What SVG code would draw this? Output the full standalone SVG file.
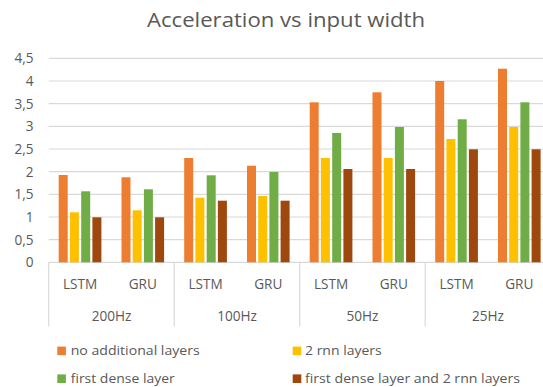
<svg xmlns="http://www.w3.org/2000/svg" width="543" height="387" viewBox="0 0 543 387">
<style>
text{font-family:"Open Sans","Liberation Sans",sans-serif;fill:#595959}
.t{font-size:20px}
.ax{font-size:13.6px}
.yl{font-size:13.6px;text-anchor:end}
.c{text-anchor:middle}
.lg{font-size:13.3px}
.grid{stroke:#d9d9d9;stroke-width:1.2;fill:none}
.s1{fill:#ED7D31}.s2{fill:#FFC000}.s3{fill:#70AD47}.s4{fill:#9E480E}
</style>
<rect width="543" height="387" fill="#ffffff"/>
<g id="title"><text class="t" x="147" y="27.3" textLength="278" lengthAdjust="spacingAndGlyphs">Acceleration vs input width</text></g>
<g id="gridlines">
<path class="grid" d="M48.7 58.3H543M48.7 81H543M48.7 103.6H543M48.7 126.3H543M48.7 149H543M48.7 171.6H543M48.7 194.3H543M48.7 217H543M48.7 239.6H543M48.7 262.3H543"/>
<path class="grid" d="M48.7 262.3V326.5M174.2 262.3V326.5M299.7 262.3V326.5M425.2 262.3V326.5"/>
</g>
<g id="y-axis">
<text class="yl" x="33.5" y="63.3">4,5</text>
<text class="yl" x="33.5" y="86">4</text>
<text class="yl" x="33.5" y="108.6">3,5</text>
<text class="yl" x="33.5" y="131.3">3</text>
<text class="yl" x="33.5" y="154">2,5</text>
<text class="yl" x="33.5" y="176.6">2</text>
<text class="yl" x="33.5" y="199.3">1,5</text>
<text class="yl" x="33.5" y="222">1</text>
<text class="yl" x="33.5" y="244.6">0,5</text>
<text class="yl" x="33.5" y="267.3">0</text>
</g>
<g id="bars">
<rect class="s1" x="58.7" y="175" width="9" height="87.3"/>
<rect class="s2" x="69.9" y="212.3" width="9" height="50"/>
<rect class="s3" x="81.2" y="191.3" width="9" height="71"/>
<rect class="s4" x="92.4" y="217.3" width="9" height="45"/>
<rect class="s1" x="121.5" y="177.3" width="9" height="85"/>
<rect class="s2" x="132.7" y="210.3" width="9" height="52"/>
<rect class="s3" x="143.9" y="189.3" width="9" height="73"/>
<rect class="s4" x="155.1" y="217.3" width="9" height="45"/>
<rect class="s1" x="184.2" y="158" width="9" height="104.3"/>
<rect class="s2" x="195.4" y="197.7" width="9" height="64.6"/>
<rect class="s3" x="206.7" y="175.3" width="9" height="87"/>
<rect class="s4" x="217.9" y="200.7" width="9" height="61.6"/>
<rect class="s1" x="247" y="165.7" width="9" height="96.6"/>
<rect class="s2" x="258.2" y="196" width="9" height="66.3"/>
<rect class="s3" x="269.4" y="172" width="9" height="90.3"/>
<rect class="s4" x="280.6" y="200.7" width="9" height="61.6"/>
<rect class="s1" x="309.7" y="102.3" width="9" height="160"/>
<rect class="s2" x="320.9" y="158" width="9" height="104.3"/>
<rect class="s3" x="332.2" y="133" width="9" height="129.3"/>
<rect class="s4" x="343.4" y="169" width="9" height="93.3"/>
<rect class="s1" x="372.5" y="92.3" width="9" height="170"/>
<rect class="s2" x="383.7" y="158" width="9" height="104.3"/>
<rect class="s3" x="394.9" y="127" width="9" height="135.3"/>
<rect class="s4" x="406.1" y="169" width="9" height="93.3"/>
<rect class="s1" x="435.2" y="81" width="9" height="181.3"/>
<rect class="s2" x="446.4" y="139" width="9" height="123.3"/>
<rect class="s3" x="457.7" y="119.3" width="9" height="143"/>
<rect class="s4" x="468.9" y="149.3" width="9" height="113"/>
<rect class="s1" x="498" y="68.7" width="9" height="193.6"/>
<rect class="s2" x="509.2" y="127" width="9" height="135.3"/>
<rect class="s3" x="520.4" y="102.3" width="9" height="160"/>
<rect class="s4" x="531.6" y="149.3" width="9" height="113"/>
</g>
<g id="x-axis">
<text class="ax c" x="80.1" y="289">LSTM</text>
<text class="ax c" x="142.8" y="289">GRU</text>
<text class="ax c" x="205.6" y="289">LSTM</text>
<text class="ax c" x="268.3" y="289">GRU</text>
<text class="ax c" x="331.1" y="289">LSTM</text>
<text class="ax c" x="393.8" y="289">GRU</text>
<text class="ax c" x="456.6" y="289">LSTM</text>
<text class="ax c" x="519.3" y="289">GRU</text>
<text class="ax c" x="111.5" y="321">200Hz</text>
<text class="ax c" x="237" y="321">100Hz</text>
<text class="ax c" x="362.5" y="321">50Hz</text>
<text class="ax c" x="488" y="321">25Hz</text>
</g>
<g id="legend">
<rect class="s1" x="57.3" y="346.6" width="8.6" height="8.6"/>
<text class="lg" x="70.7" y="355" textLength="129" lengthAdjust="spacingAndGlyphs">no additional layers</text>
<rect class="s2" x="292.7" y="346.6" width="8.6" height="8.6"/>
<text class="lg" x="305" y="355" textLength="76.7" lengthAdjust="spacingAndGlyphs">2 rnn layers</text>
<rect class="s3" x="57.3" y="374.4" width="8.6" height="8.6"/>
<text class="lg" x="70.7" y="383" textLength="104" lengthAdjust="spacingAndGlyphs">first dense layer</text>
<rect class="s4" x="292.7" y="374.4" width="8.6" height="8.6"/>
<text class="lg" x="305" y="383" textLength="215" lengthAdjust="spacingAndGlyphs">first dense layer and 2 rnn layers</text>
</g>
</svg>
